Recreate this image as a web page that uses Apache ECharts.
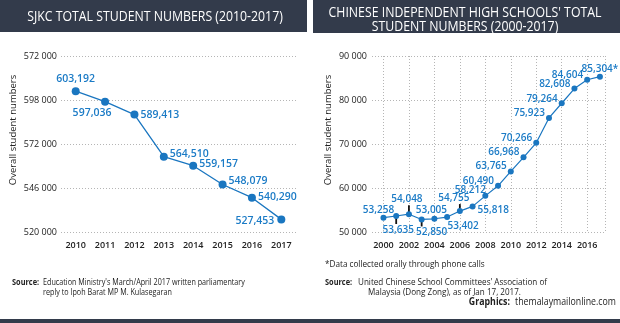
<!DOCTYPE html>
<html><head><meta charset="utf-8">
<script src="https://cdn.jsdelivr.net/npm/echarts@6/dist/echarts.min.js"></script>
<style>html,body{margin:0;padding:0;background:#fff}#c{width:620px;height:323px}</style>
</head><body><div id="c"></div>
<script>
// ---- data ----
const sjkcYears = ['2010','2011','2012','2013','2014','2015','2016','2017'];
const sjkcValues = [603192,597036,589413,564510,559157,548079,540290,527453];
const sjkcLabels = ['603,192','597,036','589,413','564,510','559,157','548,079','540,290','527,453'];
const sjkcYTicks = ['520 000','546 000','572 000','598 000','572 000'];

const ichsYears = [2000,2001,2002,2003,2004,2005,2006,2007,2008,2009,2010,2011,2012,2013,2014,2015,2016,2017];
const ichsValues = [53258,53635,54048,52850,53005,53402,54755,55818,58212,60490,63765,66968,70266,75923,79264,82608,84604,85304];
const ichsLabels = ['53,258','53,635','54,048','52,850','53,005','53,402','54,755','55,818','58,212','60,490','63,765','66,968','70,266','75,923','79,264','82,608','84,604','85,304*'];
const ichsYTicks = ['50 000','60 000','70 000','80 000','90 000'];
const ichsXTicks = [2000,2002,2004,2006,2008,2010,2012,2014,2016];

// ---- styling ----
const BLUE = '#1a76c0';
const LBLUE = '#1b7bc6';
const DARK = '#333b4b';
const FONT = '"Open Sans", "Noto Sans", sans-serif';

const sjkcLabelCfg = [
  {p:'top', o:[0,0], d:3},
  {p:'bottom', o:[-13,0], d:2},
  {p:'right', o:[0,0], d:2},
  {p:'right', o:[0,-3], d:2},
  {p:'right', o:[0,-2], d:2},
  {p:'right', o:[0,-3], d:2},
  {p:'right', o:[0,-1], d:2},
  {p:'left', o:[0,2], d:3}
];
const ichsLabelCfg = [
  {p:'top', o:[-5,0], d:0},
  {p:'bottom', o:[2,0], d:6},
  {p:'top', o:[-2,0], d:7},
  {p:'bottom', o:[10,0], d:5},
  {p:'top', o:[-3,0], d:1},
  {p:'bottom', o:[16,0], d:1},
  {p:'top', o:[-6,0], d:5},
  {p:'right', o:[0,4], d:2},
  {p:'top', o:[-15,2], d:0},
  {p:'left', o:[0,-5], d:1},
  {p:'left', o:[0,-5], d:1},
  {p:'left', o:[0,-5], d:1},
  {p:'left', o:[0,-5], d:1},
  {p:'left', o:[0,-5], d:1},
  {p:'left', o:[0,-4], d:1},
  {p:'left', o:[0,-4], d:1},
  {p:'left', o:[0,-5], d:1},
  {p:'top', o:[0,0], d:0}
];
const leaders = [{i:1, dir:1, len:6}, {i:2, dir:-1, len:7}, {i:3, dir:1, len:5}, {i:6, dir:-1, len:5}];

const sjkcData = sjkcValues.map((v, i) => ({
  value: v,
  label: {position: sjkcLabelCfg[i].p, offset: sjkcLabelCfg[i].o, distance: sjkcLabelCfg[i].d,
          formatter: () => sjkcLabels[i]}
}));
const ichsData = ichsValues.map((v, i) => ({
  value: [ichsYears[i], v],
  label: {position: ichsLabelCfg[i].p, offset: ichsLabelCfg[i].o, distance: ichsLabelCfg[i].d,
          formatter: () => ichsLabels[i]}
}));
const leaderData = leaders.map(l => [ichsYears[l.i], ichsValues[l.i], l.dir, l.len]);

const axisLabelStyle = {color:'#222', fontSize:9, fontFamily:FONT};
const dotted = {lineStyle:{color:'#b5b5b5', type:[1,2], width:1}};

function gtext(x, y, text, opts) {
  return Object.assign({type:'text', x:x, y:y, silent:true,
    style: Object.assign({text:text, fill:'#222', fontFamily:FONT, fontSize:9, fontWeight:'normal', align:'left', verticalAlign:'middle'}, opts.style || {})},
    opts.el || {});
}

const chart = echarts.init(document.getElementById('c'), null, {renderer:'canvas'});
chart.setOption({
  animation:false,
  backgroundColor:'#fff',
  grid:[
    {left:61, top:56, width:235, height:176},
    {left:372, top:56, width:233, height:176}
  ],
  xAxis:[
    {gridIndex:0, type:'category', data:sjkcYears, boundaryGap:true,
     axisLine:{show:false}, axisTick:{show:false},
     axisLabel:Object.assign({margin:9, fontWeight:600}, axisLabelStyle), splitLine:{show:false}},
    {gridIndex:1, type:'value', min:1999.1, max:2017.4,
     axisLine:{show:false},
     axisTick:{show:false, customValues:ichsXTicks.concat([2017.4])},
     axisLabel:Object.assign({margin:9, fontWeight:600, customValues:ichsXTicks, formatter:v=>String(v)}, axisLabelStyle),
     splitLine:Object.assign({show:true}, dotted)}
  ],
  yAxis:[
    {gridIndex:0, type:'value', min:520000, max:624000, interval:26000,
     axisLine:{show:false}, axisTick:{show:false},
     axisLabel:Object.assign({margin:4, formatter:(v, idx)=>sjkcYTicks[idx]}, axisLabelStyle),
     splitLine:dotted},
    {gridIndex:1, type:'value', min:50000, max:90000, interval:10000,
     axisLine:{show:false}, axisTick:{show:false},
     axisLabel:Object.assign({margin:5, formatter:(v, idx)=>ichsYTicks[idx]}, axisLabelStyle),
     splitLine:dotted}
  ],
  series:[
    {type:'line', xAxisIndex:0, yAxisIndex:0, data:sjkcData,
     symbol:'circle', symbolSize:8, lineStyle:{color:BLUE, width:1.3}, itemStyle:{color:BLUE},
     label:{show:true, color:LBLUE, fontSize:10.5, fontWeight:600, fontFamily:FONT}},
    {type:'custom', xAxisIndex:1, yAxisIndex:1, data:leaderData, silent:true, z:1,
     renderItem:function(params, api){
       const p = api.coord([api.value(0), api.value(1)]);
       const dir = api.value(2), len = api.value(3);
       return {type:'line', shape:{x1:p[0], y1:p[1]+dir*2, x2:p[0], y2:p[1]+dir*(2+len)},
               style:{stroke:'#111', lineWidth:1.8}};
     }},
    {type:'line', xAxisIndex:1, yAxisIndex:1, data:ichsData, z:3,
     symbol:'circle', symbolSize:6, lineStyle:{color:BLUE, width:1.2}, itemStyle:{color:BLUE},
     label:{show:true, color:LBLUE, fontSize:10, fontWeight:600, fontFamily:FONT}}
  ],
  graphic:[
    {type:'rect', shape:{x:0, y:0, width:307, height:32}, style:{fill:DARK}, silent:true},
    {type:'rect', shape:{x:313, y:0, width:307, height:33}, style:{fill:DARK}, silent:true},
    {type:'rect', shape:{x:0, y:319, width:620, height:4}, style:{fill:DARK}, silent:true},
    gtext(155, 17, 'SJKC TOTAL STUDENT NUMBERS (2010-2017)', {style:{fill:'#fff', fontSize:15, align:'center'}, el:{scaleX:0.82}}),
    gtext(465, 12.5, "CHINESE INDEPENDENT HIGH SCHOOLS' TOTAL", {style:{fill:'#fff', fontSize:15, align:'center'}, el:{scaleX:0.82}}),
    gtext(465, 27, 'STUDENT NUMBERS (2000-2017)', {style:{fill:'#fff', fontSize:15, align:'center'}, el:{scaleX:0.82}}),
    gtext(13, 130, 'Overall student numbers', {style:{fontSize:9.5, align:'center'}, el:{rotation:Math.PI/2}}),
    gtext(328, 130, 'Overall student numbers', {style:{fontSize:9.5, align:'center'}, el:{rotation:Math.PI/2}}),
    gtext(12, 282, 'Source:', {style:{fontSize:9, fontWeight:'bold'}, el:{scaleX:0.82}}),
    gtext(43, 282, "Education Ministry's March/April 2017 written parliamentary", {style:{fontSize:9}, el:{scaleX:0.8}}),
    gtext(43, 292, 'reply to Ipoh Barat MP M. Kulasegaran', {style:{fontSize:9}, el:{scaleX:0.8}}),
    gtext(325, 264, '*Data collected orally through phone calls', {style:{fontSize:9.5}, el:{scaleX:0.86}}),
    gtext(325, 282, 'Source:', {style:{fontSize:9, fontWeight:'bold'}, el:{scaleX:0.82}}),
    gtext(358, 282, "United Chinese School Committees' Association of", {style:{fontSize:9}, el:{scaleX:0.9}}),
    gtext(368, 292, 'Malaysia (Dong Zong), as of Jan 17, 2017.', {style:{fontSize:9}, el:{scaleX:0.9}}),
    gtext(616, 302, 'themalaymailonline.com', {style:{fontSize:10, align:'right'}, el:{scaleX:0.88}}),
    gtext(510, 302, 'Graphics:', {style:{fontSize:10, fontWeight:'bold', align:'right'}, el:{scaleX:0.88}})
  ]
});
</script>
</body></html>
